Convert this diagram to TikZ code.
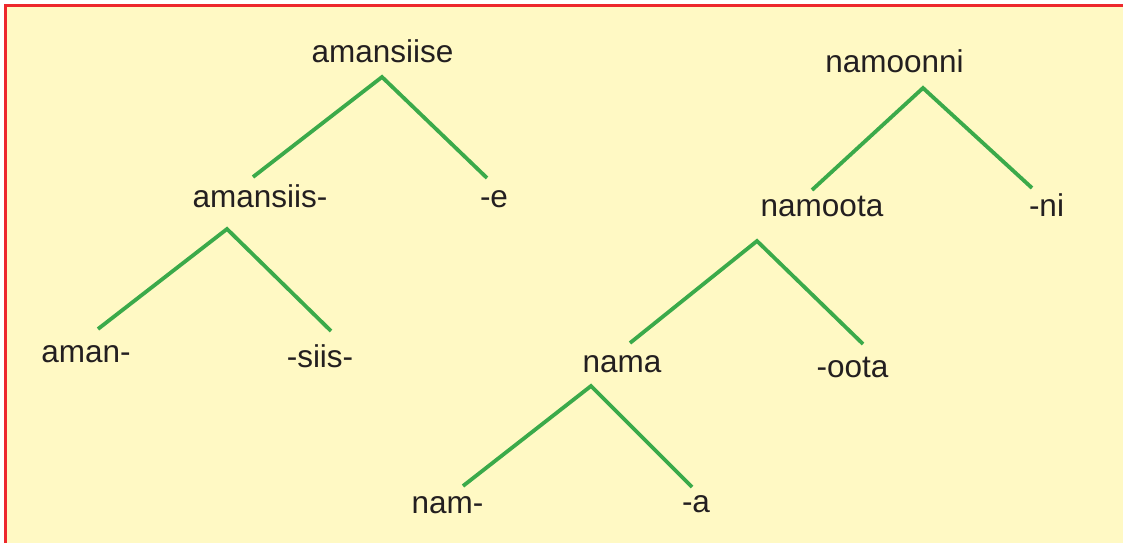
\documentclass[tikz,border=0pt]{standalone}
\usepackage{fontspec}
\setmainfont{Liberation Sans}
\definecolor{bgyellow}{RGB}{255,249,196}
\definecolor{framered}{RGB}{237,40,45}
\definecolor{branchgreen}{RGB}{59,170,74}
\definecolor{inkgray}{RGB}{35,31,32}
\begin{document}
\begin{tikzpicture}[x=1pt,y=-1pt,
  morph/.style={anchor=base,inner sep=0pt,text=inkgray,font=\fontsize{31.5}{36}\selectfont},
  branch/.style={draw=branchgreen,line width=3.8pt,line join=miter}]
\useasboundingbox (0,0) rectangle (1124,543);
\fill[white] (0,0) rectangle (1124,543);
\fill[bgyellow] (5.5,6) rectangle (1123,545);
\draw[framered,line width=3pt] (5.5,545) -- (5.5,6) -- (1123,6);

% left tree
\node[morph] (amansiise) at (382.5,63) {amansiise};
\node[morph] (amansiis) at (260,207) {amansiis-};
\node[morph] (e) at (494,207) {-e};
\node[morph] (aman) at (86,362) {aman-};
\node[morph] (siis) at (320,367) {-siis-};

% right tree
\node[morph] (namoonni) at (894.5,72) {namoonni};
\node[morph] (namoota) at (822,216) {namoota};
\node[morph] (ni) at (1046.5,216) {-ni};
\node[morph] (nama) at (622,372) {nama};
\node[morph] (oota) at (852.5,377) {-oota};
\node[morph] (nam) at (447.5,513) {nam-};
\node[morph] (a) at (696,512) {-a};

% branch points
\coordinate (t1) at (382,77);
\coordinate (t1l) at (253,177);
\coordinate (t1r) at (487,178);
\coordinate (t2) at (227,229);
\coordinate (t2l) at (98,329);
\coordinate (t2r) at (331,331);
\coordinate (t3) at (923,88);
\coordinate (t3l) at (812,190);
\coordinate (t3r) at (1032,188);
\coordinate (t4) at (757,241);
\coordinate (t4l) at (630,343);
\coordinate (t4r) at (863,344);
\coordinate (t5) at (591,386);
\coordinate (t5l) at (463,486);
\coordinate (t5r) at (692,487);

\draw[branch] (t1l) -- (t1) -- (t1r);
\draw[branch] (t2l) -- (t2) -- (t2r);
\draw[branch] (t3l) -- (t3) -- (t3r);
\draw[branch] (t4l) -- (t4) -- (t4r);
\draw[branch] (t5l) -- (t5) -- (t5r);
\end{tikzpicture}
\end{document}
